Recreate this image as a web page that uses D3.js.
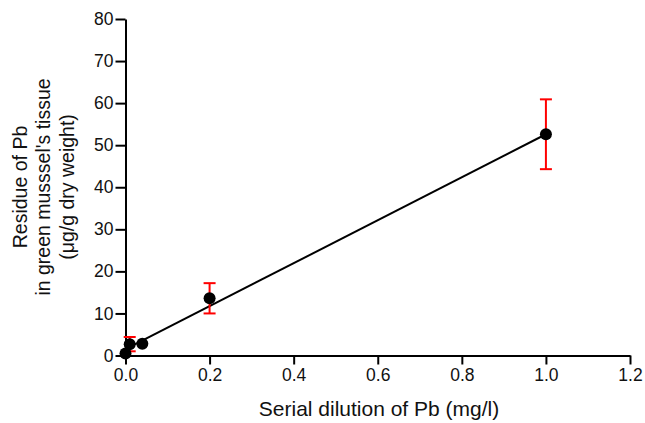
<!DOCTYPE html>
<html>
<head>
<meta charset="utf-8">
<script src="https://cdn.jsdelivr.net/npm/d3@7"></script>
<style>
  body { margin: 0; background: #fff; }
  text { font-family: "Liberation Sans", Arial, sans-serif; fill: #111; }
</style>
</head>
<body>
<div id="graph-container"></div>
<script>
// Data
const doseX = [0.0, 0.01, 0.04, 0.2, 1.0];
const residueY = [0.5, 2.7, 2.8, 13.6, 52.6];
const residueErr = [0, 1.7, 0, 3.6, 8.3];
const fitX = [0.0, 1.0];
const fitY = [1.5, 52.6];
const xTicks = [0, 0.2, 0.4, 0.6, 0.8, 1.0, 1.2];
const yTicks = [0, 10, 20, 30, 40, 50, 60, 70, 80];

const width = 645;
const height = 423;

const svg = d3.select("#graph-container")
    .append("svg")
    .attr("width", width)
    .attr("height", height);

const xScale = d3.scaleLinear().domain([0, 1.2]).range([125.5, 630]);
const yScale = d3.scaleLinear().domain([0, 80]).range([355.5, 19]);

// Axes
const xAxis = svg.append("g")
    .attr("transform", `translate(0,${yScale(0)})`)
    .call(d3.axisBottom(xScale).tickValues(xTicks).tickFormat(d3.format(".1f")).tickSize(9).tickSizeOuter(0));
xAxis.selectAll("text").style("font-size", "17.5px").attr("y", 13).attr("dy", "0.71em");

const yAxis = svg.append("g")
    .attr("transform", `translate(${xScale(0)},0)`)
    .call(d3.axisLeft(yScale).tickValues(yTicks).tickSize(10).tickSizeOuter(0));
yAxis.selectAll("text").style("font-size", "17.5px").attr("x", -12);

svg.selectAll(".domain, .tick line")
    .attr("stroke", "#000")
    .attr("stroke-width", 2);

// Fit line
const line = d3.line().x(d => xScale(d[0])).y(d => yScale(d[1]));
svg.append("path")
    .datum(fitX.map((x, i) => [x, fitY[i]]))
    .attr("d", line)
    .attr("fill", "none")
    .attr("stroke", "#000")
    .attr("stroke-width", 2);

// Error bars
const points = doseX.map((x, i) => ({ x: x, y: residueY[i], e: residueErr[i] }));
const errG = svg.append("g").selectAll("g")
    .data(points.filter(d => d.e > 0))
    .enter()
    .append("g")
    .attr("stroke", "#ff0000")
    .attr("stroke-width", 2);
errG.append("line")
    .attr("x1", d => xScale(d.x)).attr("x2", d => xScale(d.x))
    .attr("y1", d => yScale(d.y - d.e)).attr("y2", d => yScale(d.y + d.e));
errG.append("line")
    .attr("x1", d => xScale(d.x) - 6).attr("x2", d => xScale(d.x) + 6)
    .attr("y1", d => yScale(d.y + d.e)).attr("y2", d => yScale(d.y + d.e));
errG.append("line")
    .attr("x1", d => xScale(d.x) - 6).attr("x2", d => xScale(d.x) + 6)
    .attr("y1", d => yScale(d.y - d.e)).attr("y2", d => yScale(d.y - d.e));

// Points
svg.selectAll("circle")
    .data(points)
    .enter()
    .append("circle")
    .attr("cx", d => xScale(d.x))
    .attr("cy", d => yScale(d.y))
    .attr("r", 6)
    .attr("fill", "#000");

// Axis titles
svg.append("text")
    .attr("x", 379)
    .attr("y", 416)
    .style("text-anchor", "middle")
    .style("font-size", "21px")
    .text("Serial dilution of Pb (mg/l)");

const yTitle = ["Residue of Pb", "in green musssel's tissue", "(μg/g dry weight)"];
svg.append("g")
    .attr("transform", `translate(0,187) rotate(-90)`)
    .selectAll("text")
    .data(yTitle)
    .enter()
    .append("text")
    .attr("x", 0)
    .attr("y", (d, i) => 26.5 + i * 23.7)
    .style("text-anchor", "middle")
    .style("font-size", "19.5px")
    .text(d => d);
</script>
</body>
</html>
